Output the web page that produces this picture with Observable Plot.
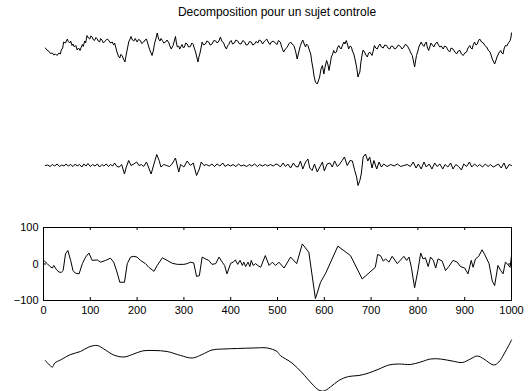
<!DOCTYPE html>
<html>
<head>
<meta charset="utf-8">
<script src="https://cdn.jsdelivr.net/npm/d3@7"></script>
<script src="https://cdn.jsdelivr.net/npm/@observablehq/plot@0.6"></script>
<style>
  html, body { margin: 0; padding: 0; background: #fff; }
  #wrap { position: relative; width: 528px; height: 391px; overflow: hidden; background: #fff; }
  #title { position: absolute; left: 43px; width: 468px; top: 6px; text-align: center;
    font-family: "Liberation Sans", Arial, sans-serif; font-size: 12px; line-height: 13px; color: #000; }
</style>
</head>
<body>
<div id="wrap"><div id="title"></div></div>
<script>
const title = "Decomposition pour un sujet controle";
const xTicks = [0, 100, 200, 300, 400, 500, 600, 700, 800, 900, 1000];
const yTicks = [-100, 0, 100];

// original signal [sample, amplitude]
const original = [[4,12],[7,8],[11,6],[15,1],[19,2],[22,-2],[26,0],[29,-3],[33,2],[36,0],[38,8],[41,12],[43,24],[47,22],[51,30],[53,25],[56,22],[58,26],[61,17],[63,20],[66,14],[69,17],[72,8],[75,12],[78,7],[80,12],[83,19],[85,15],[88,26],[90,22],[93,37],[96,32],[99,30],[101,36],[104,34],[106,29],[109,27],[112,33],[115,30],[117,26],[120,24],[122,31],[125,28],[128,22],[132,26],[136,30],[140,27],[143,22],[147,24],[150,18],[152,22],[157,4],[160,-4],[163,-8],[165,-1],[168,-3],[171,-10],[174,-16],[177,0],[180,14],[182,24],[185,30],[187,35],[190,28],[193,26],[196,31],[200,24],[203,29],[207,27],[210,21],[214,24],[217,28],[220,30],[222,24],[225,14],[228,6],[232,-3],[235,8],[237,20],[240,30],[243,42],[246,30],[249,26],[251,31],[254,27],[257,22],[261,24],[264,28],[268,22],[270,16],[273,10],[275,14],[277,17],[280,28],[282,35],[284,22],[286,14],[289,16],[291,10],[294,15],[296,19],[299,12],[301,14],[304,22],[307,20],[310,14],[314,15],[317,22],[320,19],[322,12],[325,4],[328,-8],[330,-16],[332,-6],[334,0],[337,14],[339,24],[342,18],[346,20],[349,26],[353,24],[356,18],[360,20],[364,27],[368,26],[371,22],[375,26],[378,34],[381,26],[385,22],[388,14],[391,10],[393,16],[396,19],[398,24],[401,27],[404,20],[408,22],[411,28],[415,26],[418,21],[422,20],[426,27],[430,24],[433,18],[437,19],[440,25],[444,24],[447,18],[451,20],[454,25],[458,22],[461,28],[465,26],[468,20],[471,24],[474,27],[477,30],[480,24],[484,19],[487,24],[491,26],[495,22],[499,19],[502,27],[506,24],[509,14],[513,4],[517,10],[521,14],[524,20],[528,24],[531,20],[535,17],[539,4],[542,-10],[546,6],[549,17],[551,22],[554,28],[557,20],[560,14],[562,20],[565,17],[568,8],[571,0],[573,-14],[576,-30],[578,-44],[581,-56],[585,-60],[588,-52],[590,-46],[593,-30],[596,-23],[599,-40],[602,-24],[605,-13],[608,-22],[610,-33],[613,-18],[615,-6],[618,0],[620,7],[623,2],[626,4],[628,12],[631,17],[634,12],[636,10],[639,18],[642,24],[644,20],[647,27],[650,18],[652,10],[655,16],[658,14],[660,6],[663,0],[666,-12],[669,-26],[672,-46],[674,-40],[676,-36],[678,-18],[681,0],[683,8],[686,4],[689,-2],[692,-6],[694,0],[697,4],[700,0],[702,-3],[705,8],[707,17],[710,12],[713,10],[716,16],[719,20],[722,14],[726,12],[729,18],[733,17],[736,12],[740,10],[743,16],[747,15],[750,10],[754,12],[758,18],[763,15],[766,10],[770,14],[773,19],[777,17],[780,12],[783,6],[785,2],[788,-3],[790,-12],[793,-26],[795,-14],[797,-3],[800,6],[802,14],[805,20],[807,24],[810,18],[813,15],[815,20],[818,24],[820,14],[823,7],[826,16],[828,22],[831,18],[834,14],[837,20],[841,24],[844,18],[847,14],[850,16],[854,10],[857,16],[861,14],[864,8],[868,4],[871,12],[875,10],[879,4],[883,0],[886,6],[890,7],[893,0],[897,-3],[900,2],[904,4],[907,12],[911,17],[913,12],[916,10],[918,18],[921,24],[924,18],[927,20],[929,26],[932,30],[936,24],[940,22],[943,17],[947,14],[950,8],[954,4],[957,-4],[959,-10],[962,-16],[964,-20],[967,-12],[969,-6],[973,2],[977,7],[979,2],[982,0],[984,10],[987,17],[990,16],[992,20],[995,24],[997,27],[999,34],[1000,42]];

// fine detail component
const detail = [[4,-1],[9,0],[14,-3],[19,1],[24,-2],[29,2],[34,-3],[39,0],[44,-2],[48,2],[53,-2],[58,1],[63,-3],[68,2],[72,-2],[77,1],[82,-4],[86,2],[91,-2],[95,3],[100,-3],[105,1],[110,-2],[115,2],[120,-4],[125,1],[129,-2],[134,2],[139,-3],[143,1],[148,-2],[152,4],[157,-3],[162,-4],[167,1],[173,-18],[177,-4],[182,9],[187,-1],[193,2],[199,6],[204,-1],[209,1],[214,-3],[220,6],[225,-6],[230,-18],[236,2],[242,21],[247,9],[251,-4],[257,1],[263,-1],[269,-3],[274,1],[279,9],[282,14],[289,-14],[293,1],[300,-4],[307,8],[314,-1],[320,4],[327,-21],[333,-8],[337,6],[343,-1],[348,1],[354,-2],[360,2],[365,-3],[371,2],[377,-2],[383,4],[388,-3],[394,1],[400,-2],[405,1],[411,-3],[417,2],[422,-2],[428,0],[434,-3],[440,1],[445,-2],[451,2],[457,-3],[462,1],[468,-2],[474,1],[479,-2],[485,1],[491,-2],[497,2],[502,0],[506,-4],[512,4],[517,-3],[522,2],[528,-6],[534,4],[539,-3],[544,-4],[549,8],[554,-8],[560,6],[565,12],[569,-6],[574,-11],[579,2],[585,-14],[591,-3],[596,6],[600,-12],[606,2],[612,4],[617,-4],[622,8],[628,-3],[633,2],[638,9],[643,16],[649,-1],[655,9],[660,8],[665,-11],[669,-24],[672,-41],[676,-31],[679,-18],[683,16],[688,22],[693,8],[697,16],[702,-6],[706,9],[712,-8],[717,6],[722,-4],[727,2],[734,-3],[742,1],[749,-2],[756,2],[763,-3],[770,-1],[777,1],[784,-3],[790,6],[796,-6],[801,2],[807,-8],[813,6],[818,-4],[824,2],[830,-8],[836,4],[841,-3],[847,2],[853,-8],[858,1],[864,-4],[870,4],[875,-8],[881,1],[887,-3],[893,-10],[898,2],[904,-3],[910,6],[915,-4],[921,2],[927,-3],[932,1],[938,-4],[944,2],[950,-3],[955,1],[961,-4],[967,-1],[972,2],[978,-6],[984,4],[989,-8],[995,1],[1000,-1]];

// medium component (shown with axes)
const medium = [[2,8],[8,1],[14,-7],[19,-11],[22,-4],[28,-16],[33,-22],[38,-23],[42,-18],[47,28],[52,37],[58,10],[63,-18],[68,-25],[76,-27],[83,1],[90,19],[97,30],[104,10],[115,11],[122,5],[133,10],[143,16],[150,5],[157,-22],[163,-50],[173,-50],[179,1],[186,19],[193,21],[200,19],[207,10],[218,1],[225,-9],[236,-20],[243,-4],[254,17],[264,10],[275,2],[286,-1],[300,-1],[307,1],[314,5],[321,3],[327,-34],[333,-32],[339,19],[346,14],[353,10],[360,-1],[368,1],[375,19],[382,5],[387,-4],[392,-27],[400,2],[405,5],[410,11],[415,-1],[420,10],[425,-4],[428,5],[432,-7],[437,5],[441,-7],[444,10],[448,-4],[453,1],[458,-4],[464,-9],[474,23],[482,-4],[489,5],[496,-4],[503,5],[514,-11],[528,19],[541,1],[553,55],[567,32],[581,-95],[592,-50],[603,-25],[629,49],[656,23],[681,-41],[709,-9],[714,26],[720,23],[726,8],[731,14],[738,5],[745,21],[756,1],[763,11],[770,21],[776,10],[781,19],[786,-9],[793,-65],[800,-18],[806,30],[811,14],[816,17],[822,-7],[827,19],[833,10],[838,-11],[843,14],[852,8],[859,-18],[866,-7],[875,10],[884,5],[891,-7],[900,-11],[907,-27],[914,10],[918,-9],[923,14],[930,21],[937,39],[942,28],[952,1],[959,-47],[964,-59],[971,-4],[977,-18],[982,-27],[987,5],[992,-1],[997,-9],[1000,23]];

// smooth trend component
const trend = [[4,17],[19,4],[24,12],[36,18],[58,29],[79,35],[97,44],[115,47],[129,40],[150,28],[172,24],[190,29],[211,36],[236,37],[264,35],[293,27],[318,22],[339,29],[360,38],[385,40],[414,41],[449,42],[478,42],[499,35],[506,27],[531,12],[553,-8],[574,-30],[588,-42],[599,-44],[613,-36],[631,-23],[652,-15],[674,-13],[695,-8],[717,0],[738,8],[759,10],[784,9],[806,14],[827,20],[848,20],[873,16],[895,13],[912,20],[927,26],[941,20],[962,8],[973,14],[984,30],[994,47],[1000,58]];

const wrap = document.getElementById("wrap");
document.getElementById("title").textContent = title;

const common = {
  width: 528, marginLeft: 43, marginRight: 17, marginTop: 5,
  style: { fontFamily: "'Liberation Sans', Arial, sans-serif", fontSize: "11px", background: "transparent", overflow: "visible" }
};

function place(svg, top) {
  svg.style.position = "absolute";
  svg.style.top = top + "px";
  svg.style.left = "0px";
  wrap.appendChild(svg);
}

function hiddenPanel(data, top, curve) {
  place(Plot.plot({
    ...common, height: 83, marginBottom: 5,
    x: { domain: [0, 1000], axis: null },
    y: { domain: [-73, 73], axis: null },
    marks: [Plot.line(data, { x: d => d[0], y: d => d[1], stroke: "black", strokeWidth: 1, curve })]
  }), top);
}

hiddenPanel(original, 12, "linear");
hiddenPanel(detail, 123, "linear");

const fmt = d3.format("d");
place(Plot.plot({
  ...common, height: 103, marginBottom: 25,
  x: { domain: [0, 1000] },
  y: { domain: [-100, 100] },
  marks: [
    Plot.line(medium, { x: d => d[0], y: d => d[1], stroke: "black", strokeWidth: 1 }),
    Plot.tickX(xTicks, { x: d => d, insetBottom: 70, stroke: "black" }),
    Plot.tickX(xTicks, { x: d => d, insetTop: 70, stroke: "black" }),
    Plot.tickY(yTicks, { y: d => d, insetRight: 465, stroke: "black" }),
    Plot.tickY(yTicks, { y: d => d, insetLeft: 465, stroke: "black" }),
    Plot.frame({ stroke: "black", strokeWidth: 1 }),
    Plot.axisX(xTicks, { tickSize: 0, tickPadding: 6, fill: "black", tickFormat: fmt }),
    Plot.axisY(yTicks, { tickSize: 0, tickPadding: 5, fill: "black", tickFormat: fmt })
  ]
}), 222);

hiddenPanel(trend, 327, "catmull-rom");
</script>
</body>
</html>
